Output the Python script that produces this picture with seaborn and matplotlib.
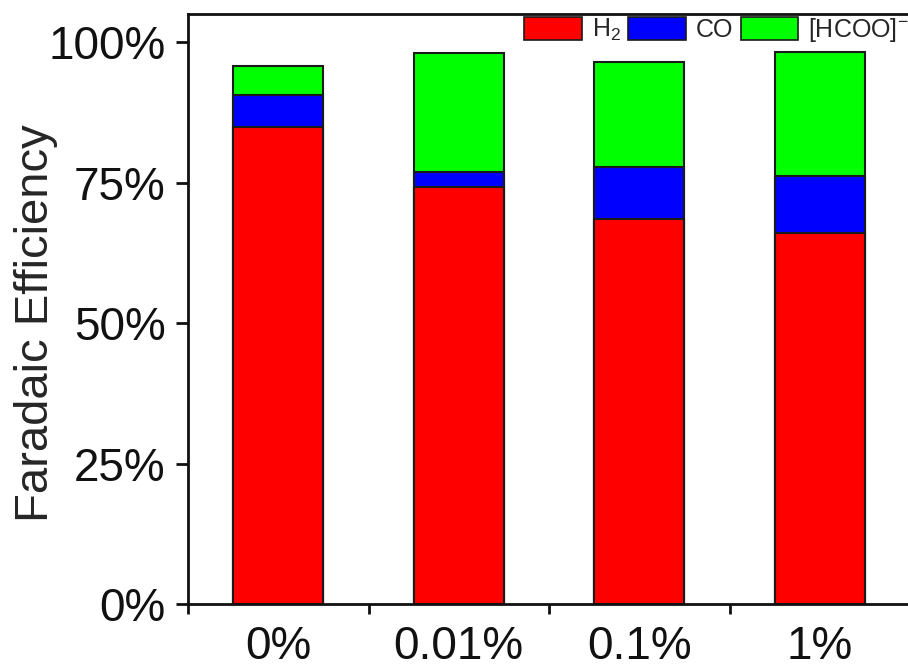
import matplotlib
matplotlib.use("Agg")
import matplotlib.pyplot as plt
import seaborn as sns
import pandas as pd
from matplotlib.patches import Patch
from matplotlib.ticker import FixedLocator, FuncFormatter

# Faradaic efficiency (%) of each product at each additive concentration
concentrations = ["0%", "0.01%", "0.1%", "1%"]
fe_h2 = [84.9, 74.2, 68.5, 66.0]
fe_co = [5.7, 2.7, 9.3, 10.2]
fe_formate = [5.1, 21.1, 18.6, 22.0]
y_ticks = [0, 25, 50, 75, 100]

sns.set_theme(style="white")
plt.rcParams["font.family"] = ["Liberation Sans", "DejaVu Sans"]
plt.rcParams["mathtext.fontset"] = "custom"
plt.rcParams["mathtext.rm"] = "Liberation Sans"
plt.rcParams["mathtext.it"] = "Liberation Sans:italic"
plt.rcParams["mathtext.bf"] = "Liberation Sans:bold"

df = pd.DataFrame({
    "conc": concentrations,
    "H2": fe_h2,
    "CO": fe_co,
    "HCOO": fe_formate,
})
df["top_co"] = df["H2"] + df["CO"]
df["top_formate"] = df["top_co"] + df["HCOO"]

fig = plt.figure(figsize=(9.08, 6.71), dpi=100)
ax = fig.add_axes([188 / 908, 67 / 671, 722 / 908, 590 / 671])

colors = {"H2": "#ff0000", "CO": "#0000ff", "HCOO": "#00ff00"}
edge = "#1a1a1a"
common = dict(x="conc", order=concentrations, width=0.5, edgecolor=edge,
              linewidth=1.5, ax=ax, errorbar=None, saturation=1)
# stacked bars: draw cumulative heights from the tallest down
sns.barplot(data=df, y="top_formate", color=colors["HCOO"], **common)
sns.barplot(data=df, y="top_co", color=colors["CO"], **common)
sns.barplot(data=df, y="H2", color=colors["H2"], **common)

ax.set_xlim(-0.5, 3.5)
ax.set_ylim(0, 105)
ax.set_xlabel("")
ax.set_ylabel("Faradaic Efficiency", fontsize=34)
ax.yaxis.set_label_coords(-0.18, 0.476)

ax.yaxis.set_major_locator(FixedLocator(y_ticks))
ax.yaxis.set_major_formatter(FuncFormatter(lambda v, p: f"{v:.0f}%"))
ax.tick_params(axis="y", which="major", direction="out", length=9, width=2,
               labelsize=33, left=True, pad=7, colors="#111111")
ax.tick_params(axis="x", which="major", length=0, labelsize=33, pad=15,
               colors="#111111")
ax.xaxis.set_minor_locator(FixedLocator([-0.5, 0.5, 1.5, 2.5, 3.5]))
ax.tick_params(axis="x", which="minor", direction="out", length=7, width=2,
               bottom=True, color="#111111")

for side in ["left", "bottom", "top"]:
    ax.spines[side].set_linewidth(2)
    ax.spines[side].set_color("#111111")
ax.spines["right"].set_visible(False)

handles = [Patch(facecolor=colors[k], edgecolor=edge, linewidth=1.2)
           for k in ["H2", "CO", "HCOO"]]
fig.legend(handles, ["H$_2$", "CO", "[HCOO]$^{-}$"], ncol=3, frameon=False,
           loc="upper left", bbox_to_anchor=(524 / 908, 1 - 16 / 671),
           fontsize=18, handlelength=2.3, handleheight=1.05,
           handletextpad=0.4, columnspacing=0.3, borderpad=0,
           borderaxespad=0)

fig.savefig("out.png", dpi=100)
